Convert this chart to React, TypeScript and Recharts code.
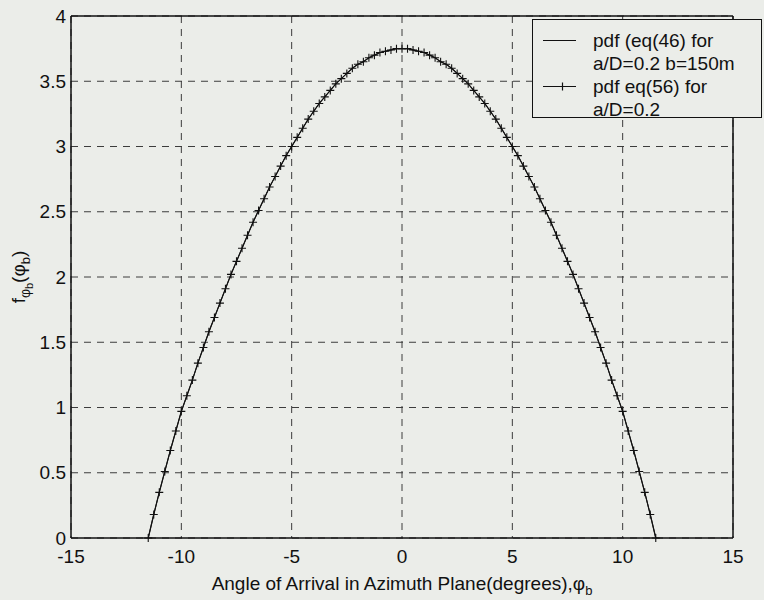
import React from "react";
import {
  LineChart,
  Line,
  XAxis,
  YAxis,
  CartesianGrid,
  ReferenceLine,
  Legend,
} from "recharts";

// angle of arrival (degrees)
const angleDeg = [
  -11.5, -11.25, -11, -10.75, -10.5, -10.25, -10, -9.75, -9.5, -9.25, -9, -8.75,
  -8.5, -8.25, -8, -7.75, -7.5, -7.25, -7, -6.75, -6.5, -6.25, -6, -5.75, -5.5,
  -5.25, -5, -4.75, -4.5, -4.25, -4, -3.75, -3.5, -3.25, -3, -2.75, -2.5, -2.25,
  -2, -1.75, -1.5, -1.25, -1, -0.75, -0.5, -0.25, 0, 0.25, 0.5, 0.75, 1, 1.25,
  1.5, 1.75, 2, 2.25, 2.5, 2.75, 3, 3.25, 3.5, 3.75, 4, 4.25, 4.5, 4.75, 5, 5.25,
  5.5, 5.75, 6, 6.25, 6.5, 6.75, 7, 7.25, 7.5, 7.75, 8, 8.25, 8.5, 8.75, 9, 9.25,
  9.5, 9.75, 10, 10.25, 10.5, 10.75, 11, 11.25, 11.5,
];

// pdf (eq 46), a/D=0.2 b=150m
const pdfEq46 = [
  0, 0.18, 0.35, 0.51, 0.67, 0.82, 0.97, 1.09, 1.21, 1.34, 1.46, 1.58, 1.69, 1.8,
  1.91, 2.02, 2.12, 2.22, 2.32, 2.42, 2.51, 2.6, 2.69, 2.77, 2.85, 2.93, 3.0, 3.07,
  3.14, 3.21, 3.27, 3.33, 3.38, 3.43, 3.48, 3.52, 3.56, 3.6, 3.63, 3.65, 3.68,
  3.7, 3.72, 3.73, 3.74, 3.75, 3.75, 3.75, 3.74, 3.73, 3.72, 3.7, 3.68, 3.65,
  3.63, 3.6, 3.56, 3.52, 3.48, 3.43, 3.38, 3.33, 3.27, 3.21, 3.14, 3.07, 3.0,
  2.93, 2.85, 2.77, 2.69, 2.6, 2.51, 2.42, 2.32, 2.22, 2.12, 2.02, 1.91, 1.8,
  1.69, 1.58, 1.46, 1.34, 1.21, 1.09, 0.97, 0.82, 0.67, 0.51, 0.35, 0.18, 0,
];

// pdf eq(56), a/D=0.2 -- lies on top of eq(46)
const pdfEq56 = [
  0, 0.18, 0.35, 0.51, 0.67, 0.82, 0.97, 1.09, 1.21, 1.34, 1.46, 1.58, 1.69, 1.8,
  1.91, 2.02, 2.12, 2.22, 2.32, 2.42, 2.51, 2.6, 2.69, 2.77, 2.85, 2.93, 3.0, 3.07,
  3.14, 3.21, 3.27, 3.33, 3.38, 3.43, 3.48, 3.52, 3.56, 3.6, 3.63, 3.65, 3.68,
  3.7, 3.72, 3.73, 3.74, 3.75, 3.75, 3.75, 3.74, 3.73, 3.72, 3.7, 3.68, 3.65,
  3.63, 3.6, 3.56, 3.52, 3.48, 3.43, 3.38, 3.33, 3.27, 3.21, 3.14, 3.07, 3.0,
  2.93, 2.85, 2.77, 2.69, 2.6, 2.51, 2.42, 2.32, 2.22, 2.12, 2.02, 1.91, 1.8,
  1.69, 1.58, 1.46, 1.34, 1.21, 1.09, 0.97, 0.82, 0.67, 0.51, 0.35, 0.18, 0,
];

const xTicks = [-15, -10, -5, 0, 5, 10, 15];
const yTicks = [0, 0.5, 1, 1.5, 2, 2.5, 3, 3.5, 4];
const legendLabels = ["pdf (eq(46) for", "a/D=0.2 b=150m", "pdf eq(56) for", "a/D=0.2"];

const data = angleDeg.map((x, i) => ({ x, pdf46: pdfEq46[i], pdf56: pdfEq56[i] }));

const FONT = '"Liberation Sans", Arial, Helvetica, sans-serif';
const INK = "#111111";
const BG = "#ebede9";

const PlusDot = (props: any) => {
  const { cx, cy, index } = props;
  if (cx == null || cy == null) return null;
  return (
    <path
      key={`p-${index}`}
      d={`M${cx - 4},${cy}h8M${cx},${cy - 4}v8`}
      stroke={INK}
      strokeWidth={1.1}
      fill="none"
    />
  );
};

const YTitle = ({ viewBox }: any) => {
  const x = viewBox.x + 14;
  const y = viewBox.y + viewBox.height / 2;
  return (
    <text
      x={x}
      y={y}
      transform={`rotate(-90, ${x}, ${y})`}
      textAnchor="middle"
      fontFamily={FONT}
      fontSize={19}
      fill={INK}
    >
      f
      <tspan fontSize={14} dy={5}>φ</tspan>
      <tspan fontSize={11} dy={3}>b</tspan>
      <tspan fontSize={19} dy={-8}>(φ</tspan>
      <tspan fontSize={13} dy={5}>b</tspan>
      <tspan fontSize={19} dy={-5}>)</tspan>
    </text>
  );
};

const XTitle = ({ viewBox }: any) => {
  const x = viewBox.x + viewBox.width / 2;
  const y = viewBox.y + 52;
  return (
    <text x={x} y={y} textAnchor="middle" fontFamily={FONT} fontSize={19} fill={INK}>
      Angle of Arrival in Azimuth Plane(degrees),φ
      <tspan fontSize={13} dy={5}>b</tspan>
    </text>
  );
};

const LegendBox = () => (
  <div
    style={{
      width: 228,
      height: 88,
      border: `1px solid ${INK}`,
      background: BG,
      boxSizing: "content-box",
      paddingTop: 9,
      fontFamily: FONT,
      fontSize: 19,
      color: INK,
      lineHeight: "23px",
    }}
  >
    {legendLabels.map((t, i) => (
      <div key={t + i} style={{ display: "flex", alignItems: "center", height: 23 }}>
        <svg width={60} height={23} style={{ flex: "none" }}>
          {i % 2 === 0 && (
            <>
              <line x1={10} y1={11.5} x2={43} y2={11.5} stroke={INK} strokeWidth={1.2} />
              {i === 2 && <path d="M29.5,7.5v8" stroke={INK} strokeWidth={1.2} />}
            </>
          )}
        </svg>
        <span style={{ whiteSpace: "nowrap" }}>{t}</span>
      </div>
    ))}
  </div>
);

export default function App() {
  return (
    <div
      style={{
        position: "absolute",
        left: 0,
        top: 0,
        width: 764,
        height: 600,
        background: BG,
      }}
    >
      <LineChart
        width={764}
        height={600}
        data={data}
        margin={{ top: 16, right: 31, left: 11, bottom: 12 }}
      >
        <CartesianGrid stroke="#3c3c3c" strokeDasharray="7 6" strokeWidth={1} />
        <XAxis
          dataKey="x"
          type="number"
          domain={[-15, 15]}
          ticks={xTicks}
          interval={0}
          height={50}
          axisLine={{ stroke: INK, strokeWidth: 1.5 }}
          tickLine={false}
          tickSize={6}
          tickMargin={6}
          tick={{ fill: INK, fontSize: 19, fontFamily: FONT }}
          label={{ content: XTitle }}
        />
        <YAxis
          type="number"
          domain={[0, 4]}
          ticks={yTicks}
          interval={0}
          width={60}
          axisLine={{ stroke: INK, strokeWidth: 1.5 }}
          tickLine={false}
          tickSize={4}
          tickMargin={1}
          tick={{ fill: INK, fontSize: 19, fontFamily: FONT }}
          label={{ content: YTitle }}
        />
        <ReferenceLine y={4} stroke={INK} strokeWidth={1.5} />
        <ReferenceLine x={15} stroke={INK} strokeWidth={1.5} />
        <Line
          type="linear"
          dataKey="pdf46"
          stroke={INK}
          strokeWidth={1.2}
          dot={false}
          activeDot={false}
          isAnimationActive={false}
        />
        <Line
          type="linear"
          dataKey="pdf56"
          stroke={INK}
          strokeWidth={1}
          dot={PlusDot}
          activeDot={false}
          isAnimationActive={false}
        />
        <Legend
          layout="horizontal"
          align="center"
          verticalAlign="middle"
          content={LegendBox}
          wrapperStyle={{ position: "absolute", left: 532, top: 19, width: 230 }}
        />
      </LineChart>
    </div>
  );
}
